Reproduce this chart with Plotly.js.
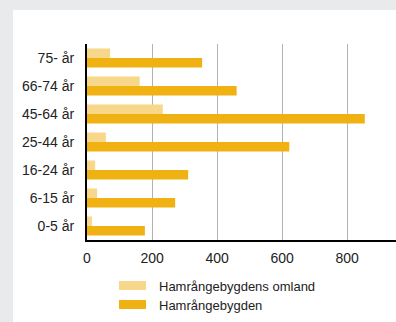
<!DOCTYPE html>
<html><head><meta charset="utf-8">
<script src="https://cdn.plot.ly/plotly-3.0.1.min.js"></script>
<style>
html,body{margin:0;padding:0;background:#e9eaec;width:396px;height:322px;overflow:hidden}
#chart{position:absolute;left:13px;top:10px;width:383px;height:312px;background:#fff}
</style></head><body>
<div id="chart"></div>
<script>
const categories = ["0-5 år","6-15 år","16-24 år","25-44 år","45-64 år","66-74 år","75- år"];
const hamrangebygden = [178, 271, 311, 622, 854, 460, 354];
const omland = [15, 31, 25, 58, 233, 162, 71];
const seriesNames = ["Hamrångebygden", "Hamrångebygdens omland"];
const seriesColors = ["#f0b113", "#f7d78a"];
const xTicks = [0, 200, 400, 600, 800];

const data = [
  {type:'bar', orientation:'h', y:categories, x:hamrangebygden, name:seriesNames[0],
   marker:{color:seriesColors[0]}, hoverinfo:'x+name'},
  {type:'bar', orientation:'h', y:categories, x:omland, name:seriesNames[1],
   marker:{color:seriesColors[1]}, hoverinfo:'x+name'}
];

// legend drawn as swatches + real text (light series first, as in the reference)
const legendOrder = [1, 0];
const legendRows = [{y0:-0.209, y1:-0.255, ty:-0.2347}, {y0:-0.306, y1:-0.352, ty:-0.3367}];
const shapes = legendOrder.map((s, i) => ({type:'rect', xref:'paper', yref:'paper',
  x0:0.1036, x1:0.1909, y0:legendRows[i].y0, y1:legendRows[i].y1,
  fillcolor:seriesColors[s], line:{width:0}}));
const annotations = legendOrder.map((s, i) => ({xref:'paper', yref:'paper', x:0.2265, y:legendRows[i].ty,
  xanchor:'left', yanchor:'middle', showarrow:false, text:seriesNames[s],
  font:{size:13, color:'#222'}}));

const layout = {
  width:383, height:312,
  margin:{l:74, r:0, t:34, b:82},
  paper_bgcolor:'#ffffff', plot_bgcolor:'#ffffff',
  font:{family:'Liberation Sans, Arial, sans-serif', size:14, color:'#222'},
  barmode:'group', bargap:0.32, bargroupgap:0,
  showlegend:false,
  shapes:shapes, annotations:annotations,
  xaxis:{range:[0,950], tickvals:xTicks, ticktext:xTicks.map(String), showgrid:true, gridcolor:'#b3b3b3', gridwidth:1,
         zeroline:false, showline:true, linecolor:'#000', linewidth:2,
         ticks:'outside', ticklen:4, tickcolor:'rgba(0,0,0,0)', fixedrange:true},
  yaxis:{showgrid:false, zeroline:false, showline:true, linecolor:'#000', linewidth:2,
         ticks:'outside', ticklen:8, tickcolor:'rgba(0,0,0,0)', fixedrange:true}
};
Plotly.newPlot('chart', data, layout, {displayModeBar:false, staticPlot:true});
</script></body></html>
